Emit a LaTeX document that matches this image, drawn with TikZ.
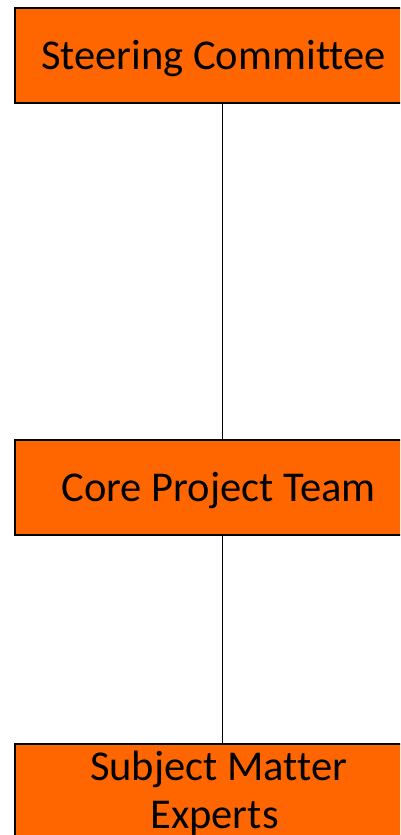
\documentclass[tikz,border=0pt]{standalone}
\usepackage{fontspec}
\setmainfont{Carlito}[Ligatures=NoCommon]
\definecolor{boxorange}{HTML}{FF6600}
\begin{document}
\begin{tikzpicture}[x=1pt,y=-1pt,
  orgbox/.style={draw=black, line width=1.5pt, fill=boxorange, minimum width=408pt,
    minimum height=95pt, inner sep=0pt, anchor=north west},
  boxtext/.style={font=\fontsize{42.5}{48}\selectfont, text=black, anchor=base, align=center, inner sep=0pt},
  link/.style={draw=black, line width=1.1pt}]
\useasboundingbox (0,0) rectangle (400,835);
\clip (0,0) rectangle (400,835);
\node[orgbox] (steer) at (14,7) {};
\node[orgbox] (core) at (14,439) {};
\node[orgbox] (sme) at (14,743) {};
\draw[link] ([xshift=4pt]steer.south) -- ([xshift=4pt]core.north);
\draw[link] ([xshift=4pt]core.south) -- ([xshift=4pt]sme.north);
\node[boxtext] (t1) at (213.5,69) {Steering Committee};
\node[boxtext] (t2) at (218.5,501) {Core Project Team};
\node[boxtext] (t3) at (218.5,780) {Subject Matter};
\node[boxtext] (t4) at (214.5,828) {Experts};
\end{tikzpicture}
\end{document}
